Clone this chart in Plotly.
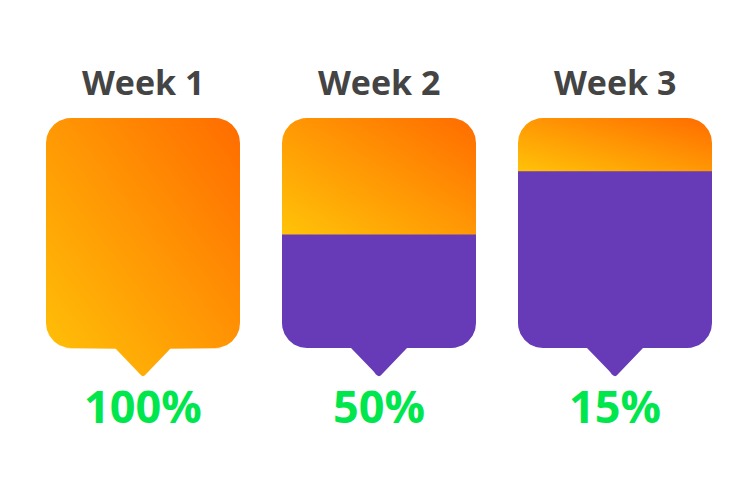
import numpy as np
import plotly.graph_objects as go

# ---------------- data ----------------
categories = ["Week 1", "Week 2", "Week 3"]
percent_values = [100, 50, 15]
orange_levels = [1.0, 0.51, 0.235]

# ---------------- style ----------------
YELLOW = "rgb(255,195,8)"
ORANGE = "rgb(255,108,0)"
PURPLE = "#673AB7"
GREEN = "#00E64D"
TITLE_COLOR = "#444444"

W, H = 751, 501
PX_X = 236.0                 # pixels per category step
PX_Y = 230.0                 # pixels per unit of callout height
X_RANGE = [-143 / PX_X, -143 / PX_X + W / PX_X]
Y_RANGE = [-(H - 348) / PX_Y, 348 / PX_Y]

HW = 97 / PX_X               # half width of box
RX, RY = 25 / PX_X, 25 / PX_Y  # corner radius
PB = 28 / PX_X               # pointer half base
PH = 29 / PX_Y               # pointer height
EX, EY = 3 / PX_X, 3 / PX_Y  # mask overhang


def rect_hw(y):
    if y > 1 - RY:
        d = (y - (1 - RY)) / RY
        return HW - RX * (1 - np.sqrt(max(0.0, 1 - d * d)))
    if y < RY:
        d = (RY - y) / RY
        return HW - RX * (1 - np.sqrt(max(0.0, 1 - d * d)))
    return HW


def ptr_hw(y):
    yc = -PH + 4 / PX_Y
    yend = -PH + 1.2 / PX_Y
    if y >= yc:
        return PB * (1 + y / PH)
    hc = PB * (1 + yc / PH)
    if y <= yend:
        return 0.0
    d = (yc - y) / (yc - yend)
    return hc * np.sqrt(max(0.0, 1 - d * d))


def rect_samples(a, b):
    ys = [a, b]
    # dense sampling inside the rounded corners (angle based)
    for t in np.linspace(0, np.pi / 2, 40):
        ys.append(RY - RY * np.sin(t))
        ys.append(1 - RY + RY * np.sin(t))
    ys = sorted(set(y for y in ys if a <= y <= b))
    return ys


def profile(a, b):
    pts = []
    if a < 0:
        for y in np.linspace(a, min(b, 0.0), 40):
            pts.append((ptr_hw(y), y))
    if b > 0:
        for y in rect_samples(max(a, 0.0), b):
            pts.append((rect_hw(y), y))
    return pts


def polygon(cx, a, b):
    pts = profile(a, b)
    xs = [cx - w for w, _ in pts] + [cx + w for w, _ in reversed(pts)]
    ys = [y for _, y in pts] + [y for _, y in reversed(pts)]
    xs.append(xs[0])
    ys.append(ys[0])
    return xs, ys


def add_fill(fig, xs, ys, color):
    fig.add_trace(go.Scatter(x=xs, y=ys, mode="lines", fill="toself",
                             fillcolor=color, line=dict(width=0),
                             hoverinfo="skip", showlegend=False))


def corner_masks(cx, top=True, bottom=False):
    out = []
    ts = np.linspace(0, np.pi / 2, 40)
    for side in (-1, 1):
        if top:
            ccx, ccy = cx + side * (HW - RX), 1 - RY
            arc = [(ccx + side * RX * np.cos(t), ccy + RY * np.sin(t)) for t in ts]
            pts = arc + [(cx + side * (HW + EX), 1 + EY), (cx + side * (HW + EX), 1 - RY)]
            out.append(pts)
        if bottom:
            ccx, ccy = cx + side * (HW - RX), RY
            arc = [(ccx + side * RX * np.cos(t), ccy - RY * np.sin(t)) for t in ts]
            pts = arc + [(cx + side * (HW + EX), -EY), (cx + side * (HW + EX), RY)]
            out.append(pts)
    return out


def pointer_masks(cx):
    out = []
    ys = np.linspace(0, -PH, 40)
    for side in (-1, 1):
        pts = [(cx + side * (HW + EX), 0.0)]
        pts += [(cx + side * ptr_hw(y), y) for y in ys]
        pts += [(cx, -PH - EY), (cx + side * (HW + EX), -PH - EY)]
        out.append(pts)
    return out


fig = go.Figure()
eps = 0.8 / PX_Y
CELL = 2.0  # px per gradient cell

for i, (cat, lvl) in enumerate(zip(categories, orange_levels)):
    cx = i
    y_lo = -PH if lvl >= 1 else 1 - lvl
    # diagonal gradient over the orange region's bounding box
    nx = int(round(2 * HW * PX_X / CELL))
    ny = max(2, int(round((1 - y_lo) * PX_Y / CELL)))
    u = (np.arange(nx) + 0.5) / nx
    w = (np.arange(ny) + 0.5) / ny
    gx = cx - HW + u * 2 * HW
    gy = y_lo + w * (1 - y_lo)
    z = w[:, None] + u[None, :]
    fig.add_trace(go.Heatmap(x=gx, y=gy, z=z, zmin=0, zmax=2, zsmooth="best",
                             colorscale=[[0, YELLOW], [1, ORANGE]], showscale=False,
                             hoverinfo="skip"))
    if lvl >= 1:
        masks = corner_masks(cx, top=True, bottom=True) + pointer_masks(cx)
    else:
        masks = corner_masks(cx, top=True, bottom=False)
        xs, ys = polygon(cx, -PH, y_lo + eps)
        add_fill(fig, xs, ys, PURPLE)
    for m in masks:
        mx = [p[0] for p in m] + [m[0][0]]
        my = [p[1] for p in m] + [m[0][1]]
        add_fill(fig, mx, my, "white")

    fig.add_annotation(x=cx, y=(348 - 82) / PX_Y, text=cat, showarrow=False,
                       xanchor="center", yanchor="middle",
                       font=dict(family="Open Sans", size=34, color=TITLE_COLOR, weight="bold"))
    fig.add_annotation(x=cx, y=(348 - 405) / PX_Y, text=f"{percent_values[i]}%", showarrow=False,
                       xanchor="center", yanchor="middle",
                       font=dict(family="Open Sans", size=45, color=GREEN, weight="bold"))

fig.update_layout(
    width=W, height=H, margin=dict(l=0, r=0, t=0, b=0),
    paper_bgcolor="white", plot_bgcolor="white",
    xaxis=dict(range=X_RANGE, visible=False, fixedrange=True),
    yaxis=dict(range=Y_RANGE, visible=False, fixedrange=True),
    showlegend=False,
)

fig.write_html("out.html", config={"displayModeBar": False},
               post_script="document.body.style.margin='0';document.body.style.padding='0';")
